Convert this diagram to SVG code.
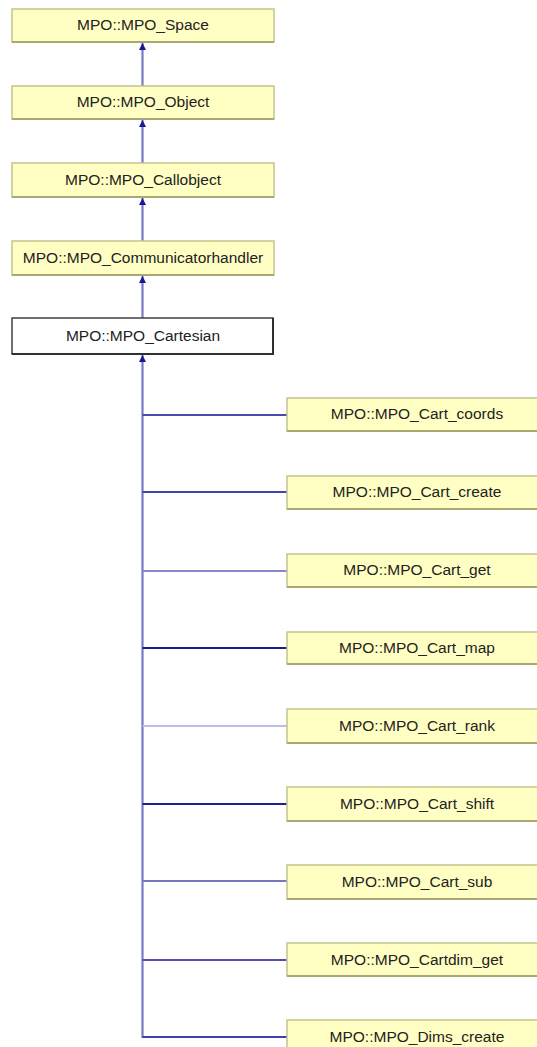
<svg xmlns="http://www.w3.org/2000/svg" width="537" height="1047" viewBox="0 0 537 1047">
<style>
.n rect{fill:#ffffc4;stroke:#c4c48c;stroke-width:1.5}
.n line{stroke:#a8a870;stroke-width:2}
.c rect{fill:#ffffff;stroke:#404040;stroke-width:1.5}
.c line{stroke:#303030;stroke-width:2}
text{font-family:"Liberation Sans",Arial,sans-serif;font-size:15.5px;fill:#222222;text-anchor:middle}
.e{fill:none;stroke-width:2.2}
.v{stroke:#7878c4}
.ah{fill:#1a1a8c}
</style>
<g id="connectors">
<line class="e v" x1="142.5" y1="86" x2="142.5" y2="43"/>
<path class="ah" d="M139,50 L142.5,43 L146,50 Z"/>
<line class="e v" x1="142.5" y1="163" x2="142.5" y2="120"/>
<path class="ah" d="M139,127 L142.5,120 L146,127 Z"/>
<line class="e v" x1="142.5" y1="241" x2="142.5" y2="198"/>
<path class="ah" d="M139,205 L142.5,198 L146,205 Z"/>
<line class="e v" x1="142.5" y1="318" x2="142.5" y2="276"/>
<path class="ah" d="M139,283 L142.5,276 L146,283 Z"/>
<line class="e v" x1="142.5" y1="1038" x2="142.5" y2="355"/>
<path class="ah" d="M139,362 L142.5,355 L146,362 Z"/>
<line class="e" stroke="#4a4aaa" x1="142.5" y1="415" x2="287" y2="415"/>
<line class="e" stroke="#4444aa" x1="142.5" y1="492" x2="287" y2="492"/>
<line class="e" stroke="#8888cc" x1="142.5" y1="571" x2="287" y2="571"/>
<line class="e" stroke="#1a1a8a" x1="142.5" y1="648" x2="287" y2="648"/>
<line class="e" stroke="#bcbce0" x1="142.5" y1="726" x2="287" y2="726" stroke-width="3"/>
<line class="e" stroke="#202090" x1="142.5" y1="804" x2="287" y2="804"/>
<line class="e" stroke="#7777c0" x1="142.5" y1="881" x2="287" y2="881"/>
<line class="e" stroke="#5050b0" x1="142.5" y1="960" x2="287" y2="960"/>
<line class="e" stroke="#4040a8" x1="142.5" y1="1037" x2="287" y2="1037"/>
</g>
<g id="MPO_Space" class="n"><rect x="12" y="9" width="262" height="33"/><line x1="12" y1="42" x2="274" y2="42"/><text x="143" y="30">MPO::MPO_Space</text></g>
<g id="MPO_Object" class="n"><rect x="12" y="86" width="262" height="33"/><line x1="12" y1="119" x2="274" y2="119"/><text x="143" y="107">MPO::MPO_Object</text></g>
<g id="MPO_Callobject" class="n"><rect x="12" y="163" width="262" height="34"/><line x1="12" y1="197" x2="274" y2="197"/><text x="143" y="185">MPO::MPO_Callobject</text></g>
<g id="MPO_Communicatorhandler" class="n"><rect x="12" y="241" width="262" height="34"/><line x1="12" y1="275" x2="274" y2="275"/><text x="143" y="263">MPO::MPO_Communicatorhandler</text></g>
<g id="MPO_Cartesian" class="c"><rect x="12" y="318" width="261" height="36"/><line x1="273" y1="318" x2="273" y2="354"/><line x1="12" y1="354" x2="274" y2="354"/><text x="143" y="341">MPO::MPO_Cartesian</text></g>
<g id="MPO_Cart_coords" class="n"><rect x="287" y="398" width="262" height="33"/><line x1="287" y1="431" x2="549" y2="431"/><text x="417" y="419">MPO::MPO_Cart_coords</text></g>
<g id="MPO_Cart_create" class="n"><rect x="287" y="476" width="262" height="33"/><line x1="287" y1="509" x2="549" y2="509"/><text x="417" y="497">MPO::MPO_Cart_create</text></g>
<g id="MPO_Cart_get" class="n"><rect x="287" y="554" width="262" height="33"/><line x1="287" y1="587" x2="549" y2="587"/><text x="417" y="575">MPO::MPO_Cart_get</text></g>
<g id="MPO_Cart_map" class="n"><rect x="287" y="632" width="262" height="32"/><line x1="287" y1="664" x2="549" y2="664"/><text x="417" y="653">MPO::MPO_Cart_map</text></g>
<g id="MPO_Cart_rank" class="n"><rect x="287" y="709" width="262" height="34"/><line x1="287" y1="743" x2="549" y2="743"/><text x="417" y="731">MPO::MPO_Cart_rank</text></g>
<g id="MPO_Cart_shift" class="n"><rect x="287" y="787" width="262" height="34"/><line x1="287" y1="821" x2="549" y2="821"/><text x="417" y="809">MPO::MPO_Cart_shift</text></g>
<g id="MPO_Cart_sub" class="n"><rect x="287" y="865" width="262" height="34"/><line x1="287" y1="899" x2="549" y2="899"/><text x="417" y="887">MPO::MPO_Cart_sub</text></g>
<g id="MPO_Cartdim_get" class="n"><rect x="287" y="943" width="262" height="33"/><line x1="287" y1="976" x2="549" y2="976"/><text x="417" y="965">MPO::MPO_Cartdim_get</text></g>
<g id="MPO_Dims_create" class="n"><rect x="287" y="1020" width="262" height="34"/><line x1="287" y1="1054" x2="549" y2="1054"/><text x="417" y="1042">MPO::MPO_Dims_create</text></g>
</svg>
